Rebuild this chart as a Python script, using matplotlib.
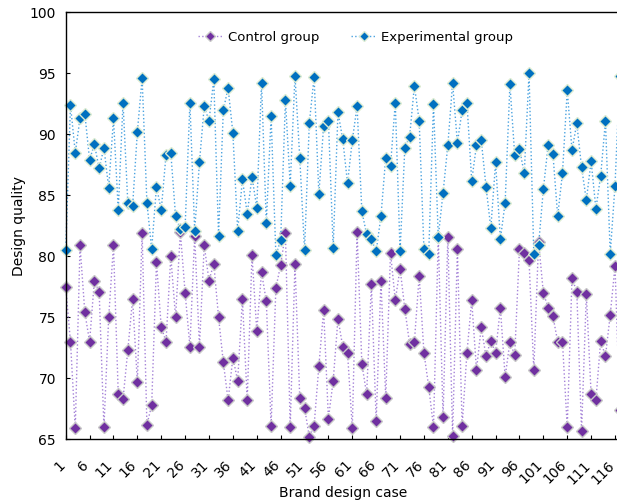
import matplotlib
matplotlib.use("Agg")
import matplotlib.pyplot as plt

# brand design cases 1..117
cases = list(range(1, 118))

control = [77.5, 73.0, 65.9, 80.9, 75.4, 73.0, 78.0, 77.1, 66.0, 75.0,
           80.9, 68.7, 68.3, 72.3, 76.5, 69.7, 81.9, 66.2, 67.8, 79.5,
           74.2, 73.0, 80.0, 75.0, 82.0, 77.0, 72.6, 81.7, 72.6, 80.9,
           78.0, 79.4, 75.0, 71.3, 68.2, 71.7, 69.8, 76.5, 68.2, 80.1,
           73.9, 78.7, 76.3, 66.1, 77.4, 79.3, 81.9, 66.0, 79.4, 68.4,
           67.6, 65.2, 66.1, 71.0, 75.6, 66.7, 69.8, 74.9, 72.6, 72.1,
           65.9, 82.0, 71.2, 68.7, 77.7, 66.5, 78.0, 68.4, 80.3, 76.4,
           79.0, 75.7, 72.8, 73.0, 78.4, 72.1, 69.3, 66.0, 81.6, 66.8,
           81.6, 65.3, 80.6, 66.1, 72.1, 76.4, 70.7, 74.2, 71.8, 73.1,
           72.1, 75.8, 70.1, 73.0, 71.9, 80.6, 80.3, 79.7, 70.7, 81.2,
           77.0, 75.8, 75.1, 73.0, 73.0, 66.0, 78.2, 77.1, 65.7, 76.9,
           68.7, 68.2, 73.1, 71.8, 75.2, 79.2, 67.4]

experimental = [80.5, 92.4, 88.5, 91.3, 91.7, 87.9, 89.2, 87.2, 88.9, 85.6,
                91.3, 83.8, 92.6, 84.4, 84.1, 90.2, 94.6, 84.4, 80.6, 85.7,
                83.8, 88.3, 88.5, 83.3, 82.2, 82.4, 92.6, 82.1, 87.7, 92.3,
                91.1, 94.5, 81.7, 92.0, 93.8, 90.1, 82.1, 86.3, 83.5, 86.5,
                84.0, 94.2, 82.7, 91.5, 80.1, 81.3, 92.8, 85.8, 94.8, 88.1,
                80.5, 90.9, 94.7, 85.1, 90.7, 91.1, 80.7, 91.8, 89.6, 86.0,
                89.5, 92.3, 83.7, 81.8, 81.4, 80.4, 83.3, 88.1, 87.4, 92.6,
                80.4, 88.9, 89.8, 94.0, 91.1, 80.6, 80.2, 92.5, 81.6, 85.2,
                89.1, 94.2, 89.3, 92.0, 92.6, 86.2, 89.1, 89.5, 85.7, 82.3,
                87.7, 81.4, 84.4, 94.1, 88.3, 88.8, 86.8, 95.0, 80.2, 80.9,
                85.5, 89.1, 88.4, 83.3, 86.8, 93.6, 88.7, 90.9, 87.3, 84.6,
                87.8, 83.9, 86.6, 91.1, 80.2, 85.8, 94.8]

xtick_vals = list(range(1, 117, 5))
ytick_vals = [65, 70, 75, 80, 85, 90, 95, 100]

fig = plt.figure(figsize=(6.17, 5.03), dpi=100)
ax = fig.add_axes([0.1065, 0.1266, 0.8980, 0.8489])

ax.plot(cases, control, linestyle=':', linewidth=1.0, color='#a583d8',
        marker='D', markersize=6.2, markerfacecolor='#7030a0',
        markeredgecolor='#c8c8c8', markeredgewidth=1.0, label='Control group',
        clip_on=False)
ax.plot(cases, experimental, linestyle=':', linewidth=1.0, color='#4ba3e0',
        marker='D', markersize=6.2, markerfacecolor='#0070c0',
        markeredgecolor='#dcebd2', markeredgewidth=1.0, label='Experimental group',
        clip_on=False)

ax.set_xlim(1, 117)
ax.set_ylim(65, 100)
ax.set_xticks(xtick_vals)
ax.set_xticklabels([str(v) for v in xtick_vals], rotation=45, ha='right',
                   va='baseline', rotation_mode='anchor', fontsize=10)
ax.set_yticks(ytick_vals)
ax.set_yticklabels([str(v) for v in ytick_vals], fontsize=10)
ax.tick_params(axis='x', direction='in', length=3, width=0.8, pad=19)
ax.tick_params(axis='y', direction='in', length=3, width=0.8, pad=7)

for s in ['left', 'top', 'bottom']:
    ax.spines[s].set_linewidth(1.0)
    ax.spines[s].set_color('black')
ax.spines['right'].set_visible(False)

ax.set_xlabel('Brand design case', fontsize=10, va='center')
ax.xaxis.set_label_coords(0.5, -0.126)
ax.set_ylabel('Design quality', fontsize=10, va='center')
ax.yaxis.set_label_coords(-0.0843, 0.5)

ax.legend(loc='upper center', bbox_to_anchor=(0.523, 0.985), ncol=2,
          frameon=False, fontsize=9.5, handlelength=1.9, columnspacing=2.4,
          handletextpad=0.38, markerscale=0.75)

plt.savefig('out.png', dpi=100)
